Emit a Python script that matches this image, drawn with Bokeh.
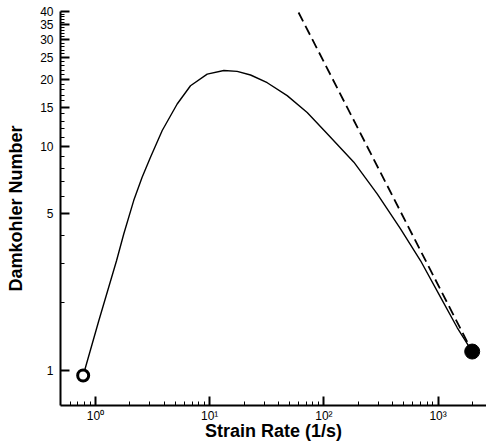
from bokeh.plotting import figure
from bokeh.models import FixedTicker, Range1d
from bokeh.embed import file_html
from bokeh.resources import INLINE

# ---- data ----
strain_rate = [0.78, 1.07, 1.53, 1.77, 2.16, 2.56, 3.03, 3.84, 5.19, 6.79, 9.51,
               13.3, 17.4, 22.8, 31.9, 47.7, 71.4, 107, 183, 293, 469, 701,
               1050, 1469, 1990]
damkohler = [0.945, 1.665, 3.09, 4.07, 5.73, 7.29, 8.96, 11.8, 15.5, 18.7, 21.1,
             21.9, 21.7, 20.9, 19.3, 16.9, 14.2, 11.4, 8.51, 6.14, 4.28, 3.09,
             2.12, 1.55, 1.21]

asym_x = [60, 1990]
asym_y = [39.8, 1.21]

start_x = [0.78]
start_y = [0.945]
end_x = [1990]
end_y = [1.21]

y_major = [1, 5, 10, 15, 20, 25, 30, 35, 40]
y_minor = [2, 3, 4, 6, 7, 8, 9] + [v for v in range(11, 40) if v % 5 != 0]
x_major = [1, 10, 100, 1000]
x_minor = [0.6, 0.7, 0.8, 0.9] + [m * d for d in (1, 10, 100) for m in range(2, 10)] + [2000]
x_labels = {1: "10\u2070", 10: "10\u00b9", 100: "10\u00b2", 1000: "10\u00b3"}

FONT = "Liberation Sans"

p = figure(width=486, height=445, x_axis_type="log", y_axis_type="log",
           x_range=Range1d(0.4937, 2655), y_range=Range1d(0.694, 40.2),
           output_backend="svg", toolbar_location=None,
           min_border_left=60, min_border_right=0, min_border_top=11,
           min_border_bottom=40)
p.outline_line_color = None
p.grid.visible = False
p.background_fill_color = "white"
p.border_fill_color = "white"

p.line(strain_rate, damkohler, line_color="black", line_width=1.4)
p.line(asym_x, asym_y, line_color="black", line_width=1.8, line_dash="10 5")
p.scatter(end_x, end_y, size=15, fill_color="black", line_color="black", line_width=1)
p.scatter(start_x, start_y, size=11, fill_color="white", line_color="black", line_width=3)

for ax in (p.xaxis[0], p.yaxis[0]):
    ax.axis_line_width = 2
    ax.axis_line_color = "black"
    ax.major_tick_in = 9
    ax.major_tick_out = 0
    ax.minor_tick_in = 4
    ax.minor_tick_out = 0
    ax.major_tick_line_width = 2
    ax.minor_tick_line_width = 1
    ax.major_tick_line_color = "black"
    ax.minor_tick_line_color = "black"
    ax.major_label_text_font = FONT
    ax.major_label_text_font_size = "12px"
    ax.major_label_text_color = "black"
    ax.axis_label_text_font = FONT
    ax.axis_label_text_font_size = "18px"
    ax.axis_label_text_font_style = "bold"
    ax.axis_label_text_color = "black"

p.xaxis.ticker = FixedTicker(ticks=x_major, minor_ticks=x_minor)
p.yaxis.ticker = FixedTicker(ticks=y_major, minor_ticks=y_minor)
p.xaxis.major_label_overrides = x_labels
p.yaxis.major_label_overrides = {v: str(v) for v in y_major}
p.xaxis.major_label_standoff = 3
p.yaxis.major_label_standoff = 7
p.xaxis.axis_label_standoff = -5
p.yaxis.axis_label_standoff = 11
p.xaxis.axis_label = "Strain Rate (1/s)"
p.yaxis.axis_label = "Damkohler Number"

open("out.html", "w").write(file_html(p, INLINE))
